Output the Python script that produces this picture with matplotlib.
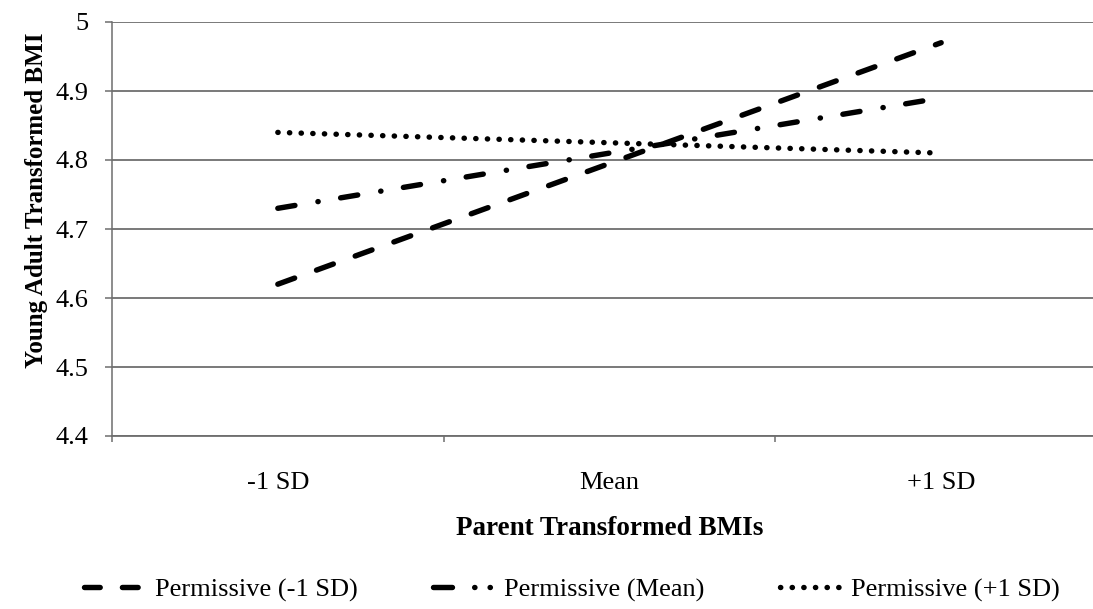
import matplotlib.pyplot as plt
from matplotlib.lines import Line2D
from matplotlib.ticker import FixedLocator

plt.rcParams['font.family'] = ['Liberation Serif', 'DejaVu Serif']

# data
categories = ['-1 SD', 'Mean', '+1 SD']
perm_low = [4.62, 4.795, 4.97]    # Permissive (-1 SD)
perm_mean = [4.73, 4.81, 4.89]    # Permissive (Mean)
perm_high = [4.84, 4.825, 4.81]   # Permissive (+1 SD)
series_names = ['Permissive (-1 SD)', 'Permissive (Mean)', 'Permissive (+1 SD)']
y_ticks = [4.4, 4.5, 4.6, 4.7, 4.8, 4.9, 5.0]
y_tick_labels = ['4.4', '4.5', '4.6', '4.7', '4.8', '4.9', '5']

W, H = 1093, 609
fig = plt.figure(figsize=(W / 100, H / 100), dpi=100)
# right edge of the plot area runs past the picture, like the cropped original
ax = fig.add_axes([112 / W, 1 - 436 / H, (1107 - 112) / W, (436 - 22) / H])

lw = 3.9
dash = (0, (3.3, 4.3))
dashdot = (0, (3.2, 4.3, 0.05, 4.2))
dots = (0, (0.05, 2.1))

x = range(len(categories))
ax.plot(x, perm_low, color='black', lw=lw, linestyle=dash, dash_capstyle='round')
ax.plot(x, perm_mean, color='black', lw=lw, linestyle=dashdot, dash_capstyle='round')
ax.plot(x, perm_high, color='black', lw=lw, linestyle=dots, dash_capstyle='round')

ax.set_xlim(-0.5, 2.5)
ax.set_ylim(4.4, 5.0)

grid_col = '#6e6e6e'
ax.set_yticks(y_ticks)
ax.set_yticklabels(y_tick_labels, fontsize=19)
ax.yaxis.grid(True, color=grid_col, lw=1.3)
ax.set_axisbelow(True)
ax.tick_params(axis='y', length=5, width=1.1, color=grid_col, pad=12)

ax.set_xticks(list(x))
ax.set_xticklabels(categories, fontsize=19)
ax.tick_params(axis='x', which='major', length=0, pad=26)
ax.xaxis.set_minor_locator(FixedLocator([-0.5, 0.5, 1.5, 2.5]))
ax.tick_params(axis='x', which='minor', length=4, width=1.1, color=grid_col, direction='out')

for side in ['top', 'right']:
    ax.spines[side].set_visible(False)
ax.spines['left'].set_color(grid_col)
ax.spines['left'].set_linewidth(1.1)
ax.spines['bottom'].set_color(grid_col)
ax.spines['bottom'].set_linewidth(1.3)

ax.set_xlabel('Parent Transformed BMIs', fontsize=19.5, fontweight='bold')
ax.xaxis.set_label_coords(0.5, (436 - 516) / 414)
fig.text(37 / W, 1 - 200 / H, 'Young Adult Transformed BMI', fontsize=18,
         fontweight='bold', rotation=90, ha='center', va='center')

# legend keys drawn the way the original legend shows them
handles = [
    Line2D([], [], color='black', lw=lw, linestyle=(0, (2.9, 4.1)), dash_capstyle='round'),
    Line2D([], [], color='black', lw=lw, linestyle=(0, (3.5, 4.1, 0.05, 2.8, 0.05, 4.0)), dash_capstyle='round'),
    Line2D([], [], color='black', lw=lw, linestyle=dots, dash_capstyle='round'),
]
fig.legend(handles, series_names, loc='center left', bbox_to_anchor=(60 / W, 1 - 590 / H),
           ncol=3, frameon=False, fontsize=19, handlelength=2.4, handletextpad=0.3,
           columnspacing=2.85)

fig.savefig('out.png', dpi=100)
